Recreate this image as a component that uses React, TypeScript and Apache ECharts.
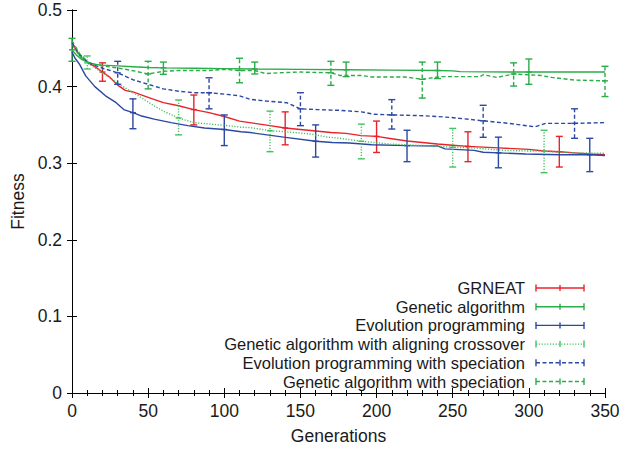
import React, { useEffect, useRef } from 'react';
import * as echarts from 'echarts';

// ---------- data ----------
const generationTicks = [0, 50, 100, 150, 200, 250, 300, 350];
const fitnessTicks = [0, 0.1, 0.2, 0.3, 0.4, 0.5];

const seriesNames = [
  'GRNEAT',
  'Genetic algorithm',
  'Evolution programming',
  'Genetic algorithm with aligning crossover',
  'Evolution programming with speciation',
  'Genetic algorithm with speciation',
];

// mean curves [generation, fitness]
const grneatCurve = [
  [0, 0.458], [3, 0.446], [6, 0.438], [10, 0.432], [15, 0.426], [20, 0.419], [25, 0.412],
  [30, 0.402], [35, 0.395], [40, 0.393], [50, 0.386], [60, 0.379], [70, 0.375], [80, 0.37],
  [90, 0.366], [100, 0.361], [110, 0.355], [120, 0.352], [130, 0.349], [140, 0.346],
  [150, 0.344], [160, 0.342], [170, 0.34], [180, 0.339], [190, 0.336], [200, 0.335],
  [210, 0.332], [220, 0.329], [230, 0.327], [240, 0.325], [250, 0.3235], [260, 0.322],
  [270, 0.321], [280, 0.32], [290, 0.319], [300, 0.318], [310, 0.316], [320, 0.315],
  [330, 0.3135], [340, 0.312], [350, 0.311],
];
const gaCurve = [
  [0, 0.448], [3, 0.441], [6, 0.436], [10, 0.432], [15, 0.429], [20, 0.428], [30, 0.427],
  [40, 0.426], [50, 0.425], [60, 0.4245], [80, 0.424], [100, 0.4235], [120, 0.423],
  [150, 0.4225], [180, 0.422], [210, 0.4215], [240, 0.421], [250, 0.4205], [255, 0.4195],
  [300, 0.419], [350, 0.419],
];
const epCurve = [
  [0, 0.445], [2, 0.437], [5, 0.429], [9, 0.414], [15, 0.4], [22, 0.388], [29, 0.379],
  [34, 0.37], [40, 0.366], [45, 0.362], [54, 0.3575], [65, 0.353], [76, 0.349], [87, 0.346],
  [100, 0.344], [111, 0.341], [117, 0.34], [139, 0.334], [160, 0.3286], [171, 0.327],
  [182, 0.3264], [197, 0.324], [220, 0.323], [240, 0.3225], [245, 0.3187], [264, 0.3167],
  [270, 0.3143], [280, 0.3135], [298, 0.312], [320, 0.311], [340, 0.311], [350, 0.31],
];
const gaAligningCurve = [
  [0, 0.455], [5, 0.44], [10, 0.431], [20, 0.418], [31, 0.403], [42, 0.39], [53, 0.376],
  [60, 0.368], [70, 0.359], [80, 0.353], [91, 0.351], [102, 0.349], [111, 0.347],
  [117, 0.3465], [130, 0.3424], [141, 0.341], [157, 0.338], [168, 0.334], [176, 0.3325],
  [190, 0.3286], [209, 0.325], [231, 0.323], [250, 0.3208], [264, 0.32], [275, 0.318],
  [286, 0.3165], [310, 0.3156], [330, 0.3135], [350, 0.313],
];
const epSpeciationCurve = [
  [0, 0.457], [5, 0.442], [11, 0.431], [20, 0.424], [30, 0.418], [40, 0.409], [50, 0.403],
  [60, 0.397], [70, 0.394], [80, 0.392], [90, 0.392], [101, 0.39], [110, 0.388],
  [117, 0.3834], [128, 0.381], [141, 0.379], [150, 0.371], [161, 0.37], [176, 0.369],
  [190, 0.367], [198, 0.364], [210, 0.363], [231, 0.362], [249, 0.3597], [264, 0.3566],
  [270, 0.3553], [287, 0.352], [304, 0.3475], [311, 0.352], [330, 0.352], [350, 0.353],
];
const gaSpeciationCurve = [
  [0, 0.46], [5, 0.443], [11, 0.431], [20, 0.427], [31, 0.424], [42, 0.42], [50, 0.4165],
  [60, 0.42], [70, 0.421], [90, 0.421], [100, 0.4225], [110, 0.421], [120, 0.421],
  [127, 0.417], [135, 0.418], [150, 0.419], [170, 0.418], [176, 0.4145], [190, 0.4145],
  [197, 0.4125], [219, 0.4125], [230, 0.4095], [242, 0.413], [268, 0.413], [270, 0.4155],
  [279, 0.412], [290, 0.4165], [308, 0.4145], [315, 0.412], [330, 0.4085], [350, 0.4075],
];

// error bars [generation, low, mean, high]
const grneatBars = [
  [20, 0.407, 0.419, 0.431], [80, 0.35, 0.37, 0.389], [140, 0.324, 0.346, 0.367],
  [200, 0.314, 0.335, 0.355], [260, 0.302, 0.322, 0.341], [320, 0.295, 0.315, 0.335],
];
const gaBars = [
  [0, 0.433, 0.448, 0.463], [60, 0.416, 0.4245, 0.432], [120, 0.4165, 0.423, 0.432],
  [180, 0.413, 0.422, 0.432], [240, 0.4105, 0.421, 0.432], [300, 0.403, 0.419, 0.436],
];
const epBars = [
  [40, 0.345, 0.366, 0.384], [100, 0.323, 0.344, 0.363], [160, 0.308, 0.3286, 0.35],
  [220, 0.302, 0.323, 0.343], [280, 0.294, 0.3135, 0.334], [340, 0.289, 0.311, 0.3325],
];
const gaAligningBars = [
  [10, 0.423, 0.431, 0.44], [70, 0.337, 0.359, 0.3825], [130, 0.315, 0.3424, 0.368],
  [190, 0.3057, 0.3286, 0.351], [250, 0.295, 0.3208, 0.3454], [310, 0.2876, 0.3156, 0.343],
];
const epSpeciationBars = [
  [30, 0.403, 0.418, 0.433], [90, 0.371, 0.392, 0.4115], [150, 0.349, 0.371, 0.392],
  [210, 0.3446, 0.363, 0.383], [270, 0.3338, 0.3553, 0.3756], [330, 0.3325, 0.352, 0.371],
];
const gaSpeciationBars = [
  [50, 0.397, 0.4165, 0.433], [110, 0.405, 0.421, 0.437], [170, 0.4016, 0.418, 0.433],
  [230, 0.385, 0.4095, 0.432], [290, 0.4007, 0.4165, 0.431], [350, 0.387, 0.4075, 0.4265],
];

// ---------- styles ----------
const RED = '#e8232b';
const GREEN = '#2aac48';
const LIGHTGREEN = '#45c260';
const BLUE = '#2b48a3';
const FONT = '"Liberation Sans", Arial, Helvetica, sans-serif';
const FS = 17.5;
const LEGEND_FS = 16.5;
const LW = 1.4;

const styles = [
  { color: RED, dash: null as number[] | null },
  { color: GREEN, dash: null },
  { color: BLUE, dash: null },
  { color: LIGHTGREEN, dash: [1.2, 1.6] },
  { color: BLUE, dash: [4, 2.5] },
  { color: GREEN, dash: [4, 2.5] },
];

const curves = [grneatCurve, gaCurve, epCurve, gaAligningCurve, epSpeciationCurve, gaSpeciationCurve];
const bars = [grneatBars, gaBars, epBars, gaAligningBars, epSpeciationBars, gaSpeciationBars];

export default function App() {
  const ref = useRef<HTMLDivElement>(null);

  useEffect(() => {
    if (!ref.current) return;
    const chart = echarts.init(ref.current, null, { renderer: 'svg' });

    const lineSeries: any[] = curves.map((c, i) => ({
      type: 'line',
      name: seriesNames[i],
      data: c,
      showSymbol: false,
      symbol: 'none',
      lineStyle: {
        color: styles[i].color,
        width: LW,
        type: styles[i].dash ? styles[i].dash : 'solid',
      },
      z: 2 + i,
    }));

    const barSeries: any[] = bars.map((b, i) => ({
      type: 'custom',
      name: seriesNames[i] + ' bars',
      data: b,
      encode: { x: 0, y: [1, 2, 3] },
      z: 2 + i,
      renderItem: (params: any, api: any) => {
        const x = api.value(0);
        const lo = api.coord([x, api.value(1)]);
        const mid = api.coord([x, api.value(2)]);
        const hi = api.coord([x, api.value(3)]);
        const st: any = { stroke: styles[i].color, lineWidth: LW, fill: null };
        if (styles[i].dash) st.lineDash = styles[i].dash;
        const plain = { stroke: styles[i].color, lineWidth: LW };
        const cw = 3.5;
        return {
          type: 'group',
          children: [
            { type: 'line', shape: { x1: lo[0], y1: lo[1], x2: hi[0], y2: hi[1] }, style: st },
            { type: 'line', shape: { x1: lo[0] - cw, y1: lo[1], x2: lo[0] + cw, y2: lo[1] }, style: plain },
            { type: 'line', shape: { x1: hi[0] - cw, y1: hi[1], x2: hi[0] + cw, y2: hi[1] }, style: plain },
            { type: 'line', shape: { x1: mid[0] - 3, y1: mid[1], x2: mid[0] + 3, y2: mid[1] }, style: plain },
          ],
        };
      },
    }));

    // legend (gnuplot-style key) drawn as graphic
    const legendRight = 525;
    const sx1 = 536;
    const sx2 = 584;
    const legendTop = 288;
    const rowH = 18.7;
    const legendEls: any[] = [];
    seriesNames.forEach((name, i) => {
      const y = legendTop + i * rowH;
      legendEls.push({
        type: 'text',
        x: legendRight,
        y,
        style: {
          text: name,
          fill: '#1a1a1a',
          font: `${LEGEND_FS}px ${FONT}`,
          lineHeight: 16,
          textAlign: 'right',
          textVerticalAlign: 'middle',
        },
      });
      const st: any = { stroke: styles[i].color, lineWidth: LW };
      if (styles[i].dash) st.lineDash = styles[i].dash;
      const plain = { stroke: styles[i].color, lineWidth: LW };
      legendEls.push({ type: 'line', shape: { x1: sx1, y1: y, x2: sx2, y2: y }, style: st });
      legendEls.push({ type: 'line', shape: { x1: sx1, y1: y - 3.5, x2: sx1, y2: y + 3.5 }, style: plain });
      legendEls.push({ type: 'line', shape: { x1: sx2, y1: y - 3.5, x2: sx2, y2: y + 3.5 }, style: plain });
      legendEls.push({ type: 'line', shape: { x1: (sx1 + sx2) / 2, y1: y - 3, x2: (sx1 + sx2) / 2, y2: y + 3 }, style: plain });
    });

    const axisCommon = {
      axisLine: { show: true, lineStyle: { color: '#000', width: 1 } },
      splitLine: { show: false },
    };

    chart.setOption({
      animation: false,
      backgroundColor: '#fff',
      grid: { left: 72, right: 32, top: 10, bottom: 54.5, containLabel: false },
      xAxis: [
        {
          type: 'value',
          min: generationTicks[0],
          max: generationTicks[generationTicks.length - 1],
          interval: 50,
          position: 'bottom',
          ...axisCommon,
          axisTick: { show: true, inside: true, length: 5, lineStyle: { color: '#000' } },
          minorTick: { show: true, splitNumber: 5, length: 3, lineStyle: { color: '#000' } },
          axisLabel: {
            fontSize: FS,
            fontFamily: FONT,
            color: '#1a1a1a',
            margin: 9,
            formatter: (v: number) => String(v),
          },
          name: 'Generations',
          nameLocation: 'middle',
          nameGap: 34,
          nameTextStyle: { fontSize: FS, fontFamily: FONT, color: '#1a1a1a' },
        },
        {
          type: 'value',
          min: generationTicks[0],
          max: generationTicks[generationTicks.length - 1],
          interval: 50,
          position: 'top',
          ...axisCommon,
          axisTick: { show: true, inside: true, length: 5, lineStyle: { color: '#000' } },
          minorTick: { show: true, splitNumber: 5, length: 3, lineStyle: { color: '#000' } },
          axisLabel: { show: false },
        },
      ],
      yAxis: [
        {
          type: 'value',
          min: fitnessTicks[0],
          max: fitnessTicks[fitnessTicks.length - 1],
          interval: 0.1,
          position: 'left',
          ...axisCommon,
          axisTick: { show: true, inside: true, length: 5, lineStyle: { color: '#000' } },
          axisLabel: {
            fontSize: FS,
            fontFamily: FONT,
            color: '#1a1a1a',
            margin: 10,
            formatter: (v: number) => (Math.abs(v) < 1e-9 ? '0' : v.toFixed(1)),
          },
          name: 'Fitness',
          nameLocation: 'middle',
          nameGap: 42,
          nameTextStyle: { fontSize: FS, fontFamily: FONT, color: '#1a1a1a' },
        },
        {
          type: 'value',
          min: fitnessTicks[0],
          max: fitnessTicks[fitnessTicks.length - 1],
          interval: 0.1,
          position: 'right',
          ...axisCommon,
          axisTick: { show: true, inside: true, length: 5, lineStyle: { color: '#000' } },
          axisLabel: { show: false },
        },
      ],
      series: [...lineSeries, ...barSeries],
      graphic: legendEls,
    });

    return () => chart.dispose();
  }, []);

  return (
    <div
      ref={ref}
      style={{ position: 'fixed', left: 0, top: 0, width: 637, height: 450, background: '#fff' }}
    />
  );
}
